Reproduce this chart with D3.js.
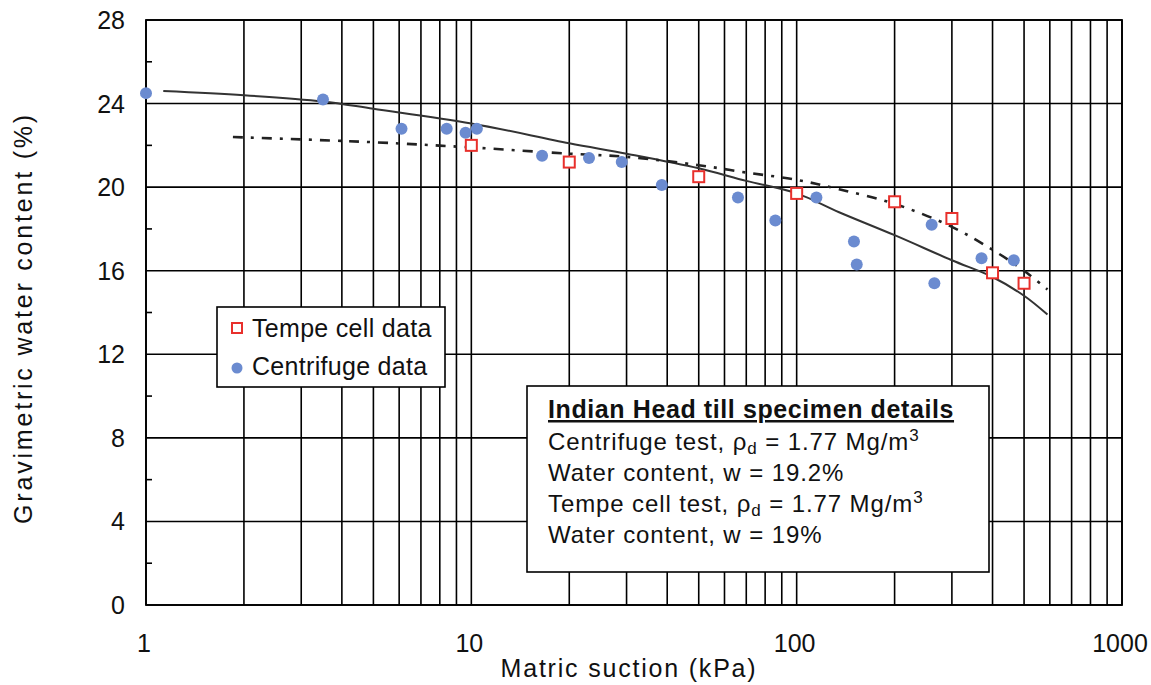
<!DOCTYPE html>
<html>
<head>
<meta charset="utf-8">
<script src="https://cdn.jsdelivr.net/npm/d3@7"></script>
<style>
  body { margin: 0; background: #fff; }
  svg text { font-family: 'Liberation Sans', Arial, sans-serif; fill: #111; }
</style>
</head>
<body>
<svg id="chart" width="1151" height="685"></svg>
<script>
// suction (kPa) / water content (%)
let centrifugeSuction = [1, 3.5, 6.1, 8.4, 9.6, 10.4, 16.5, 23, 29, 38.5, 66, 86, 115, 150, 153, 260, 265, 370, 465];
let centrifugeWater = [24.5, 24.2, 22.8, 22.8, 22.6, 22.8, 21.5, 21.4, 21.2, 20.1, 19.5, 18.4, 19.5, 17.4, 16.3, 18.2, 15.4, 16.6, 16.5];

let tempeSuction = [10, 20, 50, 100, 200, 300, 400, 500];
let tempeWater = [22.0, 21.2, 20.5, 19.7, 19.3, 18.5, 15.9, 15.4];

// fitted curves
let fitSolidSuction = [1.13, 2, 3.5, 5, 10, 20, 30, 50, 70, 100, 135, 200, 300, 400, 500, 590];
let fitSolidWater = [24.6, 24.4, 24.1, 23.75, 23.05, 22.1, 21.6, 20.9, 20.3, 19.7, 18.8, 17.7, 16.5, 15.7, 14.8, 13.9];

let fitDashSuction = [1.85, 5, 10, 20, 30, 50, 70, 100, 135, 200, 300, 400, 500, 590];
let fitDashWater = [22.4, 22.15, 21.9, 21.6, 21.45, 21.05, 20.7, 20.35, 19.9, 19.2, 18.1, 17.0, 16.0, 15.1];

let xTicks = [1, 10, 100, 1000];
let yTicks = [0, 4, 8, 12, 16, 20, 24, 28];
let yMinorTicks = [2, 6, 10, 14, 18, 22, 26];

let legendLabels = ['Tempe cell data', 'Centrifuge data'];

let svg = d3.select('#chart');

let plot = { left: 146, right: 1122, top: 20, bottom: 605 };

let xScale = d3.scaleLog()
  .domain([1, 1000])
  .range([plot.left, plot.right]);

let yScale = d3.scaleLinear()
  .domain([0, 28])
  .range([plot.bottom, plot.top]);

// vertical grid: every 1..9 in each decade
let xGrid = [];
[1, 10, 100].forEach(dec => {
  for (let k = 1; k < 10; k++) xGrid.push(dec * k);
});
xGrid.push(1000);

let grid = svg.append('g').attr('stroke', '#000').attr('stroke-width', 1.6);

grid.selectAll('.vgrid')
  .data(xGrid)
  .enter()
  .append('line')
  .attr('class', 'vgrid')
  .attr('x1', d => xScale(d))
  .attr('x2', d => xScale(d))
  .attr('y1', plot.top)
  .attr('y2', plot.bottom);

grid.selectAll('.hgrid')
  .data(yTicks)
  .enter()
  .append('line')
  .attr('class', 'hgrid')
  .attr('x1', plot.left)
  .attr('x2', plot.right)
  .attr('y1', d => yScale(d))
  .attr('y2', d => yScale(d));

grid.selectAll('.minor')
  .data(yMinorTicks)
  .enter()
  .append('line')
  .attr('class', 'minor')
  .attr('x1', plot.left)
  .attr('x2', plot.left + 6)
  .attr('y1', d => yScale(d))
  .attr('y2', d => yScale(d));

svg.append('rect')
  .attr('x', plot.left)
  .attr('y', plot.top)
  .attr('width', plot.right - plot.left)
  .attr('height', plot.bottom - plot.top)
  .attr('fill', 'none')
  .attr('stroke', '#000')
  .attr('stroke-width', 1.8);

// tick labels
svg.selectAll('.ylab')
  .data(yTicks)
  .enter()
  .append('text')
  .attr('class', 'ylab')
  .attr('x', 125)
  .attr('y', d => yScale(d) + 9)
  .attr('text-anchor', 'end')
  .style('font-size', '25px')
  .text(d => d);

svg.selectAll('.xlab')
  .data(xTicks)
  .enter()
  .append('text')
  .attr('class', 'xlab')
  .attr('x', d => xScale(d) - 2)
  .attr('y', 652)
  .attr('text-anchor', 'middle')
  .style('font-size', '25px')
  .text(d => d);

svg.append('text')
  .attr('x', 629)
  .attr('y', 677)
  .attr('text-anchor', 'middle')
  .style('font-size', '25px')
  .style('letter-spacing', '1.8px')
  .text('Matric suction (kPa)');

svg.append('text')
  .attr('transform', 'translate(32, 318) rotate(-90)')
  .attr('text-anchor', 'middle')
  .style('font-size', '25px')
  .style('letter-spacing', '2.8px')
  .text('Gravimetric water content (%)');

// fitted curves
let line = d3.line()
  .x(d => xScale(d[0]))
  .y(d => yScale(d[1]))
  .curve(d3.curveCatmullRom.alpha(0.5));

svg.append('path')
  .datum(d3.zip(fitSolidSuction, fitSolidWater))
  .attr('d', line)
  .attr('fill', 'none')
  .attr('stroke', '#333')
  .attr('stroke-width', 2);

svg.append('path')
  .datum(d3.zip(fitDashSuction, fitDashWater))
  .attr('d', line)
  .attr('fill', 'none')
  .attr('stroke', '#222')
  .attr('stroke-width', 2.6)
  .attr('stroke-dasharray', '10,8,3,8');

// data points
let blue = '#6b8bd0';
let red = '#e8302c';

svg.selectAll('.centrifuge')
  .data(d3.zip(centrifugeSuction, centrifugeWater))
  .enter()
  .append('circle')
  .attr('class', 'centrifuge')
  .attr('cx', d => xScale(d[0]))
  .attr('cy', d => yScale(d[1]))
  .attr('r', 6)
  .attr('fill', blue);

svg.selectAll('.tempe')
  .data(d3.zip(tempeSuction, tempeWater))
  .enter()
  .append('rect')
  .attr('class', 'tempe')
  .attr('x', d => xScale(d[0]) - 5.5)
  .attr('y', d => yScale(d[1]) - 5.5)
  .attr('width', 11)
  .attr('height', 11)
  .attr('fill', '#fff')
  .attr('stroke', red)
  .attr('stroke-width', 2);

// legend
let legend = svg.append('g');

legend.append('rect')
  .attr('x', 217)
  .attr('y', 307)
  .attr('width', 228)
  .attr('height', 80)
  .attr('fill', '#fff')
  .attr('stroke', '#000')
  .attr('stroke-width', 1.6);

legend.append('rect')
  .attr('x', 232)
  .attr('y', 323)
  .attr('width', 10)
  .attr('height', 10)
  .attr('fill', '#fff')
  .attr('stroke', red)
  .attr('stroke-width', 2);

legend.append('circle')
  .attr('cx', 237)
  .attr('cy', 368)
  .attr('r', 5.5)
  .attr('fill', blue);

legend.selectAll('.legtext')
  .data(legendLabels)
  .enter()
  .append('text')
  .attr('class', 'legtext')
  .attr('x', 252)
  .attr('y', (d, i) => 337 + i * 38)
  .style('font-size', '25px')
  .style('letter-spacing', '0.3px')
  .text(d => d);

// specimen details box
let box = svg.append('g');

box.append('rect')
  .attr('x', 527)
  .attr('y', 386)
  .attr('width', 462)
  .attr('height', 186)
  .attr('fill', '#fff')
  .attr('stroke', '#000')
  .attr('stroke-width', 1.6);

box.append('text')
  .attr('x', 548)
  .attr('y', 418)
  .style('font-size', '25px')
  .style('font-weight', 'bold')
  .style('letter-spacing', '0.6px')
  .style('text-decoration', 'underline')
  .text('Indian Head till specimen details');

let boxLines = [
  { pre: 'Centrifuge test, ', rho: true, post: ' = 1.77 Mg/m', sup: '3' },
  { pre: 'Water content, w = 19.2%' },
  { pre: 'Tempe cell test, ', rho: true, post: ' = 1.77 Mg/m', sup: '3' },
  { pre: 'Water content, w = 19%' }
];

boxLines.forEach((l, i) => {
  let t = box.append('text')
    .attr('x', 548)
    .attr('y', 450 + i * 31)
    .style('font-size', '24px')
    .style('letter-spacing', '0.9px');
  t.append('tspan').text(l.pre);
  if (l.rho) {
    t.append('tspan').text('ρ');
    t.append('tspan').attr('dy', 4).style('font-size', '17px').text('d');
    t.append('tspan').attr('dy', -4).text(l.post);
    t.append('tspan').attr('dy', -9).style('font-size', '17px').text(l.sup);
  }
});
</script>
</body>
</html>
